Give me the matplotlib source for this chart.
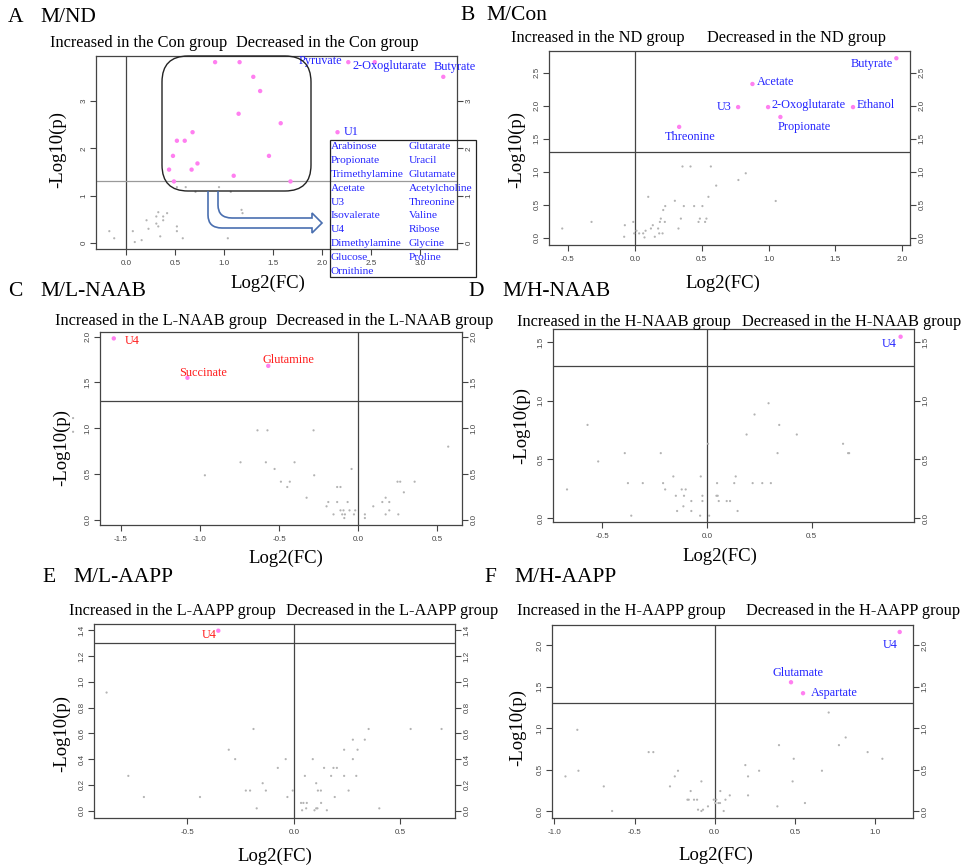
import matplotlib
matplotlib.use("Agg")
import matplotlib.pyplot as plt
from matplotlib.patches import FancyBboxPatch, PathPatch, Rectangle
from matplotlib.path import Path
from matplotlib.transforms import Affine2D

# ---------------- data ----------------
# Panel A  M/ND
a_ns_x = [-0.17, -0.12, 0.07, 0.09, 0.16, 0.21, 0.23, 0.31, 0.33, 0.38, 0.38, 0.42, 0.31, 0.33,
          0.35, 0.52, 0.52, 0.58, 0.52, 0.61, 0.71, 0.95, 1.07, 1.18, 1.19, 1.04]
a_ns_y = [0.25, 0.10, 0.25, 0.02, 0.06, 0.48, 0.30, 0.56, 0.65, 0.56, 0.48, 0.63, 0.41, 0.35,
          0.14, 0.35, 0.25, 0.10, 1.18, 1.18, 1.08, 1.18, 1.08, 0.70, 0.63, 0.10]
a_sig_x = [0.91, 1.16, 1.30, 1.37, 1.15, 1.58, 0.68, 0.52, 0.60, 0.48, 1.46, 0.73, 0.44, 0.67,
           1.10, 1.68, 0.49, 2.27, 2.54, 3.24, 2.16]
a_sig_y = [3.82, 3.82, 3.51, 3.21, 2.73, 2.53, 2.34, 2.16, 2.16, 1.84, 1.84, 1.68, 1.55, 1.55,
           1.42, 1.30, 1.30, 3.82, 3.82, 3.51, 2.34]
a_lab_idx = [17, 17, 19, 20]
a_lab_txt = ["Pyruvate", "2-Oxoglutarate", "Butyrate", "U1"]
a_list_col1 = ["Arabinose", "Propionate", "Trimethylamine", "Acetate", "U3", "Isovalerate",
               "U4", "Dimethylamine", "Glucose", "Ornithine"]
a_list_col2 = ["Glutarate", "Uracil", "Glutamate", "Acetylcholine", "Threonine", "Valine",
               "Ribose", "Glycine", "Proline"]

# Panel B  M/Con
b_ns_x = [-0.543, -0.324, -0.075, -0.08, -0.012, -0.005, 0.012, 0.032, 0.062, 0.072, 0.08, 0.10,
          0.12, 0.134, 0.149, 0.174, 0.182, 0.187, 0.194, 0.207, 0.212, 0.224, 0.227, 0.299,
          0.326, 0.344, 0.356, 0.366, 0.416, 0.443, 0.476, 0.486, 0.505, 0.525, 0.535, 0.55,
          0.568, 0.608, 0.774, 0.829, 1.053]
b_ns_y = [0.14, 0.24, 0.19, 0.015, 0.24, 0.066, 0.106, 0.066, 0.066, 0.005, 0.106, 0.62,
          0.14, 0.19, 0.015, 0.14, 0.066, 0.24, 0.29, 0.066, 0.42, 0.24, 0.48, 0.56,
          0.14, 0.29, 1.08, 0.48, 1.08, 0.48, 0.24, 0.29, 0.48, 0.24, 0.29, 0.62,
          1.08, 0.79, 0.875, 0.977, 0.557]
b_sig_x = [1.955, 0.879, 0.772, 0.996, 1.631, 1.088, 0.331]
b_sig_y = [2.72, 2.33, 1.98, 1.98, 1.98, 1.83, 1.68]
b_lab_txt = ["Butyrate", "Acetate", "U3", "2-Oxoglutarate", "Ethanol", "Propionate", "Threonine"]

# Panel C  M/L-NAAB
c_ns_x = [-0.636, -0.573, -0.282, -0.743, -0.583, -0.402, -0.968, -0.528, -0.278, -0.042,
          -0.488, -0.432, -0.448, -0.326, -0.189, -0.20, -0.133, -0.112, -0.133, -0.067,
          -0.156, -0.112, -0.093, -0.055, -0.019, -0.101, -0.084, -0.088, -0.027, 0.042,
          0.042, 0.095, 0.152, 0.173, 0.196, 0.196, 0.173, 0.253, 0.248, 0.265, 0.356,
          0.288, 0.568, -1.80, -1.80]
c_ns_y = [0.976, 0.976, 0.976, 0.627, 0.627, 0.627, 0.485, 0.554, 0.485, 0.554,
          0.415, 0.415, 0.357, 0.24, 0.193, 0.146, 0.357, 0.357, 0.193, 0.193,
          0.058, 0.102, 0.102, 0.102, 0.102, 0.058, 0.058, 0.018, 0.058, 0.058,
          0.018, 0.146, 0.193, 0.24, 0.193, 0.102, 0.058, 0.058, 0.415, 0.415, 0.415,
          0.299, 0.798, 1.11, 0.96]
c_sig_x = [-1.543, -0.568, -1.078]
c_sig_y = [1.98, 1.68, 1.55]
c_lab_txt = ["U4", "Glutamine", "Succinate"]

# Panel D  M/H-NAAB
d_ns_x = [-0.669, -0.571, -0.52, -0.393, -0.378, -0.362, -0.307, -0.221, -0.21, -0.20, -0.161,
          -0.149, -0.143, -0.121, -0.11, -0.113, -0.102, -0.075, -0.075, -0.033, -0.03, -0.022,
          -0.022, 0.005, 0.01, 0.048, 0.045, 0.051, 0.056, 0.094, 0.11, 0.13, 0.137, 0.146,
          0.189, 0.218, 0.227, 0.264, 0.294, 0.305, 0.337, 0.345, 0.429, 0.65, 0.674, 0.679]
d_ns_y = [0.244, 0.795, 0.483, 0.554, 0.298, 0.02, 0.298, 0.554, 0.298, 0.244, 0.355,
          0.19, 0.06, 0.244, 0.19, 0.10, 0.244, 0.145, 0.06, 0.02, 0.355, 0.19,
          0.145, 0.634, 0.02, 0.298, 0.19, 0.19, 0.145, 0.145, 0.145, 0.298, 0.355, 0.06,
          0.713, 0.298, 0.884, 0.298, 0.98, 0.298, 0.554, 0.795, 0.713, 0.634, 0.554, 0.554]
d_sig_x = [0.925]
d_sig_y = [1.548]
d_lab_txt = ["U4"]

# Panel E  M/L-AAPP
e_ns_x = [-0.878, -0.776, -0.703, -0.44, -0.305, -0.275, -0.225, -0.205, -0.189, -0.174,
          -0.146, -0.131, -0.075, -0.038, -0.03, -0.005, 0.034, 0.039, 0.045, 0.052, 0.058,
          0.061, 0.089, 0.097, 0.105, 0.105, 0.111, 0.113, 0.127, 0.128, 0.142, 0.155,
          0.175, 0.186, 0.202, 0.192, 0.236, 0.236, 0.257, 0.277, 0.277, 0.293, 0.299,
          0.333, 0.351, 0.401, 0.548, 0.693]
e_ns_y = [0.917, 0.27, 0.106, 0.106, 0.473, 0.40, 0.156, 0.156, 0.634, 0.018,
          0.213, 0.156, 0.332, 0.40, 0.106, 0.156, 0.06, 0.003, 0.06, 0.27, 0.018,
          0.06, 0.40, 0.003, 0.213, 0.018, 0.018, 0.156, 0.156, 0.06, 0.332, 0.003,
          0.27, 0.332, 0.332, 0.106, 0.473, 0.27, 0.156, 0.551, 0.40, 0.27, 0.473,
          0.551, 0.634, 0.018, 0.634, 0.634]
e_sig_x = [-0.354]
e_sig_y = [1.397]
e_lab_txt = ["U4"]

# Panel F  M/H-AAPP
f_ns_x = [-0.931, -0.857, -0.85, -0.692, -0.64, -0.412, -0.383, -0.279, -0.249, -0.229, -0.17,
          -0.162, -0.15, -0.129, -0.11, -0.104, -0.083, -0.083, -0.073, -0.042, -0.006, 0.01,
          0.004, 0.023, 0.033, 0.035, 0.056, 0.067, 0.094, 0.191, 0.208, 0.208, 0.277,
          0.391, 0.401, 0.486, 0.493, 0.563, 0.669, 0.711, 0.775, 0.817, 0.954, 1.046]
f_ns_y = [0.42, 0.98, 0.488, 0.30, 0.004, 0.712, 0.712, 0.30, 0.42, 0.488, 0.14,
          0.14, 0.244, 0.14, 0.14, 0.02, 0.36, 0.004, 0.02, 0.06, 0.14, 0.14,
          0.10, 0.10, 0.10, 0.244, 0.004, 0.14, 0.192, 0.556, 0.42, 0.192, 0.488,
          0.06, 0.796, 0.36, 0.632, 0.10, 0.488, 1.188, 0.796, 0.888, 0.712, 0.632]
f_sig_x = [1.154, 0.476, 0.551]
f_sig_y = [2.156, 1.552, 1.42]
f_lab_txt = ["U4", "Glutamate", "Aspartate"]

threshold = 1.3

# ---------------- layout / style ----------------
W, H = 970, 867
fig = plt.figure(figsize=(W / 100, H / 100), dpi=100)
SERIF = "Liberation Serif"
SANS = "Liberation Sans"
PINK = "#ff7ff0"
GRAY = "#b3b3b3"
BLUE = "#2424ff"
RED = "#ff1c1c"
LINEC = "#444444"

# transform: pixel coords with top-left origin
PXT = Affine2D().scale(1, -1).translate(0, H).scale(1 / W, 1 / H) + fig.transFigure


def ftext(x, y, s, size, ha="left", va="center", rot=0, color="black", family=SERIF):
    fig.text(x / W, 1 - y / H, s, fontsize=size, ha=ha, va=va, rotation=rot,
             color=color, family=family)


def make_ax(box, xlim, ylim, xt, yt, xtl, ytl, hcol=LINEC):
    l, t, r, b = box
    ax = fig.add_axes([l / W, 1 - b / H, (r - l) / W, (b - t) / H])
    ax.set_xlim(*xlim)
    ax.set_ylim(*ylim)
    ax.set_xticks(xt)
    ax.set_xticklabels(xtl)
    ax.set_yticks(yt)
    ax.set_yticklabels(ytl)
    for sp in ax.spines.values():
        sp.set_color(LINEC)
        sp.set_linewidth(0.9)
    ax.tick_params(axis="both", direction="out", length=4, width=0.8, color=LINEC,
                   labelsize=5.8, labelcolor="#444444")
    ax.tick_params(axis="x", pad=4)
    ax.tick_params(axis="y", pad=2, right=True, labelright=True, labelrotation=90)
    for lab in ax.get_xticklabels() + ax.get_yticklabels():
        lab.set_family(SANS)
    for lab in ax.get_yticklabels():
        lab.set_va("center")
    ax.axvline(0, color=LINEC, lw=0.9, zorder=1)
    ax.axhline(threshold, color=hcol, lw=0.9, zorder=1)
    return ax


def dots(ax, nx, ny, sx, sy):
    ax.scatter(nx, ny, s=2.5, color=GRAY, edgecolors="none", zorder=2, clip_on=False)
    ax.scatter(sx, sy, s=10, color=PINK, edgecolors="none", zorder=3)


def label(ax, x, y, s, dx, dy, ha, color):
    ax.annotate(s, (x, y), xytext=(dx * 0.72, dy * 0.72), textcoords="offset points",
                ha=ha, va="center", fontsize=8.8, family=SERIF, color=color,
                annotation_clip=False, zorder=4)


def fmt(vals, nd=1):
    return [f"{v:.{nd}f}" for v in vals]


def panel_text(letter, lx, name, nx, y, t1, t1x, t2, t2x, ty, ylx, yly, xlx, xly):
    ftext(lx, y, letter, 15.5)
    ftext(nx, y, name, 15.5)
    ftext(t1x, ty, t1, 11.8)
    ftext(t2x, ty, t2, 11.8)
    ftext(ylx, yly, "-Log10(p)", 13.5, ha="center", rot=90)
    ftext(xlx, xly, "Log2(FC)", 13.5, ha="center")


# ---- Panel A ----
xt = [0.0, 0.5, 1.0, 1.5, 2.0, 2.5, 3.0]
axA = make_ax((96, 56, 457, 249), (-0.306, 3.38), (-0.127, 3.95), xt, [0, 1, 2, 3],
              fmt(xt), ["0", "1", "2", "3"], hcol="#9a9a9a")
dots(axA, a_ns_x, a_ns_y, a_sig_x, a_sig_y)
a_offsets = [(-6, 1, "right"), (4, -4, "left"), (-10, 10, "left"), (6, 0, "left")]
for i, t, (dx, dy, ha) in zip(a_lab_idx, a_lab_txt, a_offsets):
    label(axA, a_sig_x[i], a_sig_y[i], t, dx, dy, ha, BLUE)
panel_text("A", 8, "M/ND", 40, 17, "Increased in the Con group", 50,
           "Decreased in the Con group", 236, 43, 58, 150, 268, 283)
# rounded box around unlabeled significant metabolites
fig.add_artist(FancyBboxPatch((162, 56), 149, 135, boxstyle="round,pad=0,rounding_size=26",
                              transform=PXT, fill=False, edgecolor="#222222", lw=1.0))
# hollow bent arrow
verts = [(208, 191), (208, 215), (208, 228), (222, 228), (312, 228), (312, 233), (322, 223),
         (312, 213), (312, 218), (232, 218), (218, 218), (218, 205), (218, 191)]
codes = [Path.MOVETO, Path.LINETO, Path.CURVE3, Path.CURVE3, Path.LINETO, Path.LINETO,
         Path.LINETO, Path.LINETO, Path.LINETO, Path.LINETO, Path.CURVE3, Path.CURVE3,
         Path.LINETO]
fig.add_artist(PathPatch(Path(verts, codes), transform=PXT, fill=False,
                         edgecolor="#4a6fb0", lw=1.2))
# list box
fig.add_artist(Rectangle((330, 140), 146, 137, transform=PXT, fill=False,
                         edgecolor="#222222", lw=0.9))
for i, s in enumerate(a_list_col1):
    ftext(331, 147 + 13.8 * i, s, 8.2, color=BLUE)
for i, s in enumerate(a_list_col2):
    ftext(409, 147 + 13.8 * i, s, 8.2, color=BLUE)

# ---- Panel B ----
xt = [-0.5, 0.0, 0.5, 1.0, 1.5, 2.0]
yt = [0.0, 0.5, 1.0, 1.5, 2.0, 2.5]
axB = make_ax((549, 51, 910, 245), (-0.642, 2.057), (-0.11, 2.83), xt, yt, fmt(xt), fmt(yt))
dots(axB, b_ns_x, b_ns_y, b_sig_x, b_sig_y)
b_offsets = [(-3.4, -5.7, "right"), (4, 2, "left"), (-6.6, 0, "right"), (3.7, 2, "left"),
             (3.4, 2, "left"), (-2.4, -9.7, "left"), (-14.3, -10.3, "left")]
for x, y, t, (dx, dy, ha) in zip(b_sig_x, b_sig_y, b_lab_txt, b_offsets):
    label(axB, x, y, t, dx, dy, ha, BLUE)
panel_text("B", 460, "M/Con", 486, 16, "Increased in the ND group", 511,
           "Decreased in the ND group", 707, 38, 517, 150, 723, 283)

# ---- Panel C ----
xt = [-1.5, -1.0, -0.5, 0.0, 0.5]
yt = [0.0, 0.5, 1.0, 1.5, 2.0]
axC = make_ax((100, 332, 462, 525), (-1.63, 0.655), (-0.058, 2.05), xt, yt, fmt(xt), fmt(yt))
dots(axC, c_ns_x, c_ns_y, c_sig_x, c_sig_y)
c_offsets = [(11, -3, "left"), (-5.7, 6, "left"), (-8.3, 4.3, "left")]
for x, y, t, (dx, dy, ha) in zip(c_sig_x, c_sig_y, c_lab_txt, c_offsets):
    label(axC, x, y, t, dx, dy, ha, RED)
panel_text("C", 8, "M/L-NAAB", 40, 292, "Increased in the L-NAAB group", 55,
           "Decreased in the L-NAAB group", 276, 321, 62, 448, 286, 558)

# ---- Panel D ----
xt = [-0.5, 0.0, 0.5]
yt = [0.0, 0.5, 1.0, 1.5]
axD = make_ax((553, 329, 914, 522), (-0.736, 0.989), (-0.034, 1.614), xt, yt, fmt(xt), fmt(yt))
dots(axD, d_ns_x, d_ns_y, d_sig_x, d_sig_y)
label(axD, d_sig_x[0], d_sig_y[0], d_lab_txt[0], -4.3, -7.3, "right", BLUE)
panel_text("D", 468, "M/H-NAAB", 502, 292, "Increased in the H-NAAB group", 517,
           "Decreased in the H-NAAB group", 742, 322, 522, 425, 720, 556)

# ---- Panel E ----
xt = [-0.5, 0.0, 0.5]
yt = [0.0, 0.2, 0.4, 0.6, 0.8, 1.0, 1.2, 1.4]
axE = make_ax((94, 624, 455, 818), (-0.937, 0.756), (-0.057, 1.449), xt, yt, fmt(xt), fmt(yt))
dots(axE, e_ns_x, e_ns_y, e_sig_x, e_sig_y)
label(axE, e_sig_x[0], e_sig_y[0], e_lab_txt[0], -1.7, -4, "right", RED)
panel_text("E", 42, "M/L-AAPP", 73, 577, "Increased in the L-AAPP group", 69,
           "Decreased in the L-AAPP group", 286, 611, 62, 734, 275, 856)

# ---- Panel F ----
xt = [-1.0, -0.5, 0.0, 0.5, 1.0]
yt = [0.0, 0.5, 1.0, 1.5, 2.0]
axF = make_ax((552, 625, 913, 818), (-1.015, 1.237), (-0.08, 2.24), xt, yt, fmt(xt), fmt(yt))
dots(axF, f_ns_x, f_ns_y, f_sig_x, f_sig_y)
f_offsets = [(-2, -13.3, "right"), (-19, 9.6, "left"), (8, 0, "left")]
for x, y, t, (dx, dy, ha) in zip(f_sig_x, f_sig_y, f_lab_txt, f_offsets):
    label(axF, x, y, t, dx, dy, ha, BLUE)
panel_text("F", 484, "M/H-AAPP", 514, 577, "Increased in the H-AAPP group", 517,
           "Decreased in the H-AAPP group", 746, 611, 518, 728, 716, 855)

fig.savefig("out.png", dpi=100, facecolor="white")
